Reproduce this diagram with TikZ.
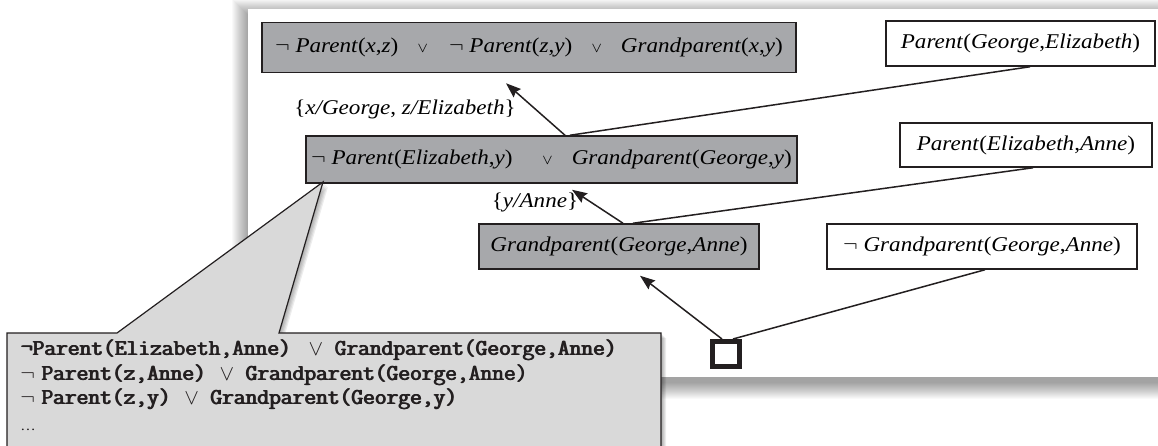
\documentclass[tikz,border=0pt]{standalone}
\usepackage{fontspec}
\setmainfont{Liberation Serif}[FakeStretch=1.1]
\usetikzlibrary{arrows.meta,calc}

\definecolor{ink}{RGB}{35,31,32}
\definecolor{clausegray}{RGB}{167,168,171}
\definecolor{calloutgray}{RGB}{217,217,217}

% upright parentheses and commas inside italic clauses
\newcommand\lp{\textup{(}}
\newcommand\rp{\textup{)}}
\newcommand\cm{\textup{,}}
\newcommand\orsym{$\scriptstyle\vee$}
\newcommand\ttor{$\vee$}
% heavier strokes for the typewriter trace: overprint with a small offset
\newcommand\heavy[1]{\rlap{#1}\kern0.3pt\rlap{#1}\kern0.3pt#1}

\tikzset{
  clause/.style={draw=ink, line width=0.75pt, inner sep=0pt, anchor=center,
    font=\fontsize{10.5}{12}\selectfont},
  resolvent/.style={clause, fill=clausegray},
  fact/.style={clause, fill=white},
  subst/.style={inner sep=0pt, font=\fontsize{10.5}{12}\selectfont},
  link/.style={draw=ink, line width=0.75pt},
  arr/.style={link, -{Stealth[length=7.5pt,width=5.5pt,inset=1pt]}},
  emptyclause/.style={draw=ink, line width=2.5pt, fill=white, inner sep=0pt,
    minimum width=13.5pt, minimum height=12.5pt},
  traceline/.style={anchor=base west, inner sep=0pt, text=ink,
    font=\fontsize{11.4}{12}\selectfont\ttfamily},
}

\begin{document}
\begin{tikzpicture}[x=0.5pt,y=-0.5pt]
\useasboundingbox (0,0) rectangle (1158,445);
\clip (0,0) rectangle (1158,445);
\fill[white] (0,0) rectangle (1158,445);

% panel with soft shadow
\foreach \i in {0,...,16}{
  \fill[black, opacity=0.022] (248-\i,15-\i) rectangle (1220+\i,383+\i);
}
\fill[white] (248,9) rectangle (1220,377);

% clauses
\node[resolvent, minimum width=267pt, minimum height=25pt] (b1) at (529,47.5)
  {$\neg$\ \textit{Parent}\lp\textit{x}\cm\textit{z}\rp\hspace{0.9em}\orsym\hspace{1em}$\neg$\ \textit{Parent}\lp\textit{z}\cm\textit{y}\rp\hspace{0.9em}\orsym\hspace{0.9em}\textit{Grandparent}\lp\textit{x}\cm\textit{y}\rp};
\node[fact, minimum width=134.5pt, minimum height=22.5pt] (pge) at (1020.5,43.5)
  {\textit{Parent}\lp\textit{George}\cm\textit{Elizabeth}\rp};
\node[resolvent, minimum width=245.5pt, minimum height=23.5pt] (b2) at (551.5,159.5)
  {$\neg$\ \textit{Parent}\lp\textit{Elizabeth}\cm\textit{y}\rp\hspace{1.4em}\orsym\hspace{0.9em}\textit{Grandparent}\lp\textit{George}\cm\textit{y}\rp};
\node[fact, minimum width=126pt, minimum height=22pt] (pea) at (1026,145)
  {\textit{Parent}\lp\textit{Elizabeth}\cm\textit{Anne}\rp};
\node[resolvent, minimum width=140pt, minimum height=22.5pt] (b3) at (619,246.5)
  {\textit{Grandparent}\lp\textit{George}\cm\textit{Anne}\rp};
\node[fact, minimum width=155pt, minimum height=22.5pt] (ng) at (982,246.5)
  {$\neg$\ \textit{Grandparent}\lp\textit{George}\cm\textit{Anne}\rp};
\node[emptyclause] (sq) at (726,354) {};

% substitutions
\node[subst] (s1) at (405,109) {\{\textit{x/George}, \textit{z/Elizabeth}\}};
\node[subst] (s2) at (535,202) {\{\textit{y/Anne}\}};

% resolution steps
\draw[arr] ($(b2.north)+(13.5,0)$) -- ($(b1.south)+(-23,10)$);
\draw[link] ($(b2.north)+(18.5,0)$) -- ($(pge.south)+(9.5,0)$);
\draw[arr] ($(b3.north)+(4,0)$) -- ($(b2.south)+(20.5,6)$);
\draw[link] ($(b3.north)+(14,0)$) -- ($(pea.south)+(7,0)$);
\draw[arr] ($(sq.north)+(-4,0)$) -- ($(b3.south)+(21,6)$);
\draw[link] ($(sq.north)+(7,0)$) -- ($(ng.south)+(3,0)$);

% callout with shadow
\foreach \i in {1,...,5}{
  \fill[black, opacity=0.07, shift={(\i,\i)}]
    (7,333) -- (117,333) -- (323,182) -- (279,333) -- (661,333) -- (661,470) -- (7,470) -- cycle;
}
\filldraw[fill=calloutgray, draw=ink, line width=0.6pt]
  (7,333) -- (117,333) -- (323,182) -- (279,333) -- (661,333) -- (661,470) -- (7,470) -- cycle;

\node[traceline] (t1) at (20,355.5)
  {\heavy{¬Parent(Elizabeth,Anne)}\hspace{8.5pt}\ttor\hspace{5.5pt}\heavy{Grandparent(George,Anne)}};
\node[traceline] (t2) at (20,380.5)
  {$\neg$\hspace{3pt}\heavy{Parent(z,Anne)}\hspace{6.5pt}\ttor\hspace{5.5pt}\heavy{Grandparent(George,Anne)}};
\node[traceline] (t3) at (20,404.5)
  {$\neg$\hspace{3pt}\heavy{Parent(z,y)}\hspace{6.5pt}\ttor\hspace{5.5pt}\heavy{Grandparent(George,y)}};
\node[traceline, font=\fontsize{7}{8}\selectfont\rmfamily] (t4) at (20,430) {…};
\end{tikzpicture}
\end{document}
